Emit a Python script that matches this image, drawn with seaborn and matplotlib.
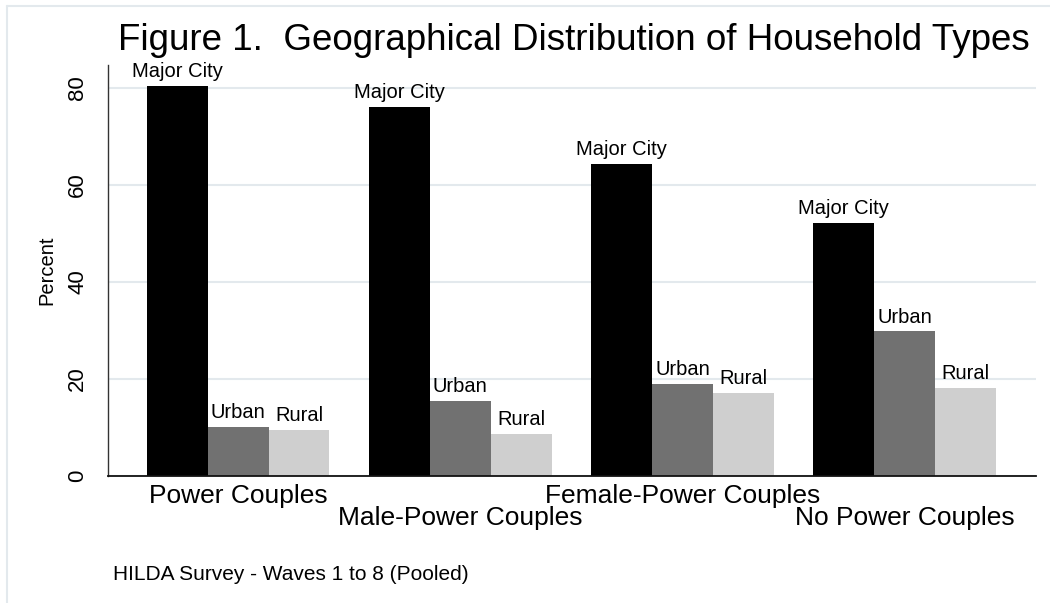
import numpy as np
import pandas as pd
import matplotlib
matplotlib.use("Agg")
import matplotlib.pyplot as plt
from matplotlib.lines import Line2D
import seaborn as sns

# ---- data ----
household_types = ["Power Couples", "Male-Power Couples", "Female-Power Couples", "No Power Couples"]
areas = ["Major City", "Urban", "Rural"]
major_city = [80.4, 76.1, 64.3, 52.2]
urban = [10.2, 15.5, 18.9, 29.8]
rural = [9.5, 8.7, 17.1, 18.1]
y_ticks = [0, 20, 40, 60, 80]
title = "Figure 1.  Geographical Distribution of Household Types"
note = "HILDA Survey - Waves 1 to 8 (Pooled)"

df = pd.DataFrame({
    "type": household_types * 3,
    "area": [a for a in areas for _ in household_types],
    "pct": major_city + urban + rural,
})

sns.set_style("white")
plt.rcParams["font.family"] = ["Liberation Sans", "DejaVu Sans"]
plt.rcParams["text.color"] = "black"
plt.rcParams["axes.labelcolor"] = "black"
plt.rcParams["xtick.color"] = "black"
plt.rcParams["ytick.color"] = "black"

W, H = 1050, 603
fig = plt.figure(figsize=(W / 100, H / 100), dpi=100)
ax = fig.add_axes([108 / W, 1 - 476 / H, (1036 - 108) / W, (476 - 65) / H])

palette = ["#000000", "#717171", "#cfcfcf"]
sns.barplot(data=df, x="type", y="pct", hue="area", hue_order=areas,
            order=household_types, palette=palette, saturation=1,
            width=0.823, linewidth=0, ax=ax, legend=False)

for cont, name in zip(ax.containers, areas):
    ax.bar_label(cont, labels=[name] * len(cont), padding=3.5, fontsize=14.5, color="black")

ax.set_xlim(-0.585, 3.59)
ax.set_ylim(0, 84.7)
ax.set_yticks(y_ticks)
ax.set_yticklabels([str(t) for t in y_ticks])
ax.yaxis.grid(True, color="#e3e9ed", linewidth=1.5)
ax.xaxis.grid(False)
ax.set_axisbelow(True)

for s in ["top", "right"]:
    ax.spines[s].set_visible(False)
ax.spines["left"].set_color("#333333")
ax.spines["left"].set_linewidth(1.0)
ax.spines["bottom"].set_color("#111111")
ax.spines["bottom"].set_linewidth(1.3)

ax.tick_params(axis="y", length=7.2, width=0.9, color="#333333", labelcolor="black",
               pad=7.2, labelsize=16, labelrotation=90)
for lab in ax.get_yticklabels():
    lab.set_va("center")
ax.tick_params(axis="x", length=0, labelsize=19, labelcolor="black")
for i, tk in enumerate(ax.xaxis.get_major_ticks()):
    tk.set_pad(5.8 if i % 2 == 0 else 21.6)

ax.set_xlabel("")
ax.set_ylabel("Percent", fontsize=14.5, labelpad=8, color="black")

fig.text(574 / W, 1 - 50 / H, title, ha="center", va="baseline", fontsize=26.5, color="black")
fig.text(113 / W, 1 - 580 / H, note, ha="left", va="baseline", fontsize=15, color="black")

# outer frame (light)
fc = "#e3e9ed"
fig.add_artist(Line2D([7 / W, 7 / W], [0, 1 - 6 / H], transform=fig.transFigure, color=fc, lw=1.5))
fig.add_artist(Line2D([7 / W, 1], [1 - 6 / H, 1 - 6 / H], transform=fig.transFigure, color=fc, lw=1.5))

fig.savefig("out.png", dpi=100, facecolor="white")
